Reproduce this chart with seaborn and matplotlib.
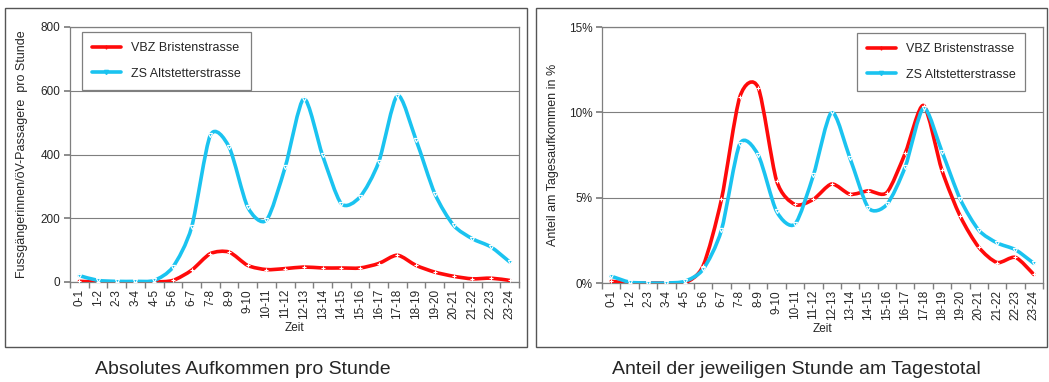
import matplotlib
matplotlib.use("Agg")
import matplotlib.pyplot as plt
from matplotlib.path import Path
from matplotlib.patches import PathPatch, Rectangle
from matplotlib.lines import Line2D
from matplotlib.ticker import FuncFormatter, MultipleLocator
import numpy as np
import seaborn as sns

# --- data ---
hours = ["0-1", "1-2", "2-3", "3-4", "4-5", "5-6", "6-7", "7-8", "8-9", "9-10",
         "10-11", "11-12", "12-13", "13-14", "14-15", "15-16", "16-17", "17-18",
         "18-19", "19-20", "20-21", "21-22", "22-23", "23-24"]

vbz_abs = [2, 0, 0, 0, 0, 5, 37, 89, 94, 52, 39, 42, 47, 44, 44, 44, 58, 84,
           52, 31, 18, 10, 12, 5]
zs_abs = [20, 5, 2, 2, 5, 47, 172, 460, 424, 235, 194, 360, 575, 397, 246, 267,
          376, 585, 445, 277, 178, 136, 110, 63]

vbz_pct = [0.1, 0.0, 0.0, 0.0, 0.0, 1.0, 4.9, 10.9, 11.45, 6.0, 4.6, 4.9, 5.8,
           5.2, 5.4, 5.3, 7.6, 10.4, 6.6, 3.9, 2.1, 1.2, 1.5, 0.5]
zs_pct = [0.4, 0.05, 0.0, 0.0, 0.1, 0.8, 3.1, 8.15, 7.5, 4.2, 3.45, 6.3, 10.0,
          7.3, 4.4, 4.6, 6.8, 10.25, 7.7, 4.9, 3.1, 2.35, 1.95, 1.15]

series_names = ["VBZ Bristenstrasse", "ZS Altstetterstrasse"]
RED = "#FF0A0A"
CYAN = "#1AC3F0"
GRID = "#7F7F7F"

sns.set_theme(style="white")
plt.rcParams["font.family"] = ["Liberation Sans", "DejaVu Sans"]


def smooth_path(x, y, t=0.13):
    """Excel-like smoothed line through the data points (cubic Bezier)"""
    n = len(x)
    verts = [(x[0], y[0])]
    codes = [Path.MOVETO]
    for i in range(n - 1):
        p0 = i - 1 if i > 0 else i
        p3 = i + 2 if i + 2 < n else i + 1
        c1 = (x[i] + (x[i + 1] - x[p0]) * t, y[i] + (y[i + 1] - y[p0]) * t)
        c2 = (x[i + 1] - (x[p3] - x[i]) * t, y[i + 1] - (y[p3] - y[i]) * t)
        verts += [c1, c2, (x[i + 1], y[i + 1])]
        codes += [Path.CURVE4] * 3
    return Path(verts, codes)


def draw_panel(ax, red_vals, cyan_vals, ymax, ystep, ylabel, pct=False, legend_pos=(0.03, 0.98)):
    pos = np.arange(len(hours))
    for vals, color, mk in [(red_vals, RED, "+"), (cyan_vals, CYAN, "v")]:
        ax.add_patch(PathPatch(smooth_path(pos, np.array(vals, float)), fill=False,
                               edgecolor=color, lw=2.6, capstyle="round", joinstyle="round",
                               zorder=3))
        sns.lineplot(x=pos, y=vals, ax=ax, color=color, lw=0, marker=mk,
                     markersize=3, markeredgewidth=0.8, zorder=4)
    ax.set_xlim(-0.5, len(hours) - 0.5)
    ax.set_ylim(0, ymax)
    ax.yaxis.set_major_locator(MultipleLocator(ystep))
    if pct:
        ax.yaxis.set_major_formatter(FuncFormatter(lambda v, _: f"{v:.0f}%"))
    ax.set_xticks(pos)
    ax.set_xticklabels(hours, rotation=90, fontsize=8.5)
    ax.set_xticks(np.arange(-0.5, len(hours)), minor=True)
    ax.tick_params(axis="x", which="major", length=0, pad=5)
    ax.tick_params(axis="x", which="minor", length=4, color=GRID, bottom=True)
    ax.tick_params(axis="y", length=4, color=GRID, left=True, labelsize=8.5, pad=3)
    ax.grid(axis="y", color=GRID, lw=0.8)
    for s in ax.spines.values():
        s.set_color(GRID)
        s.set_linewidth(0.9)
    ax.set_xlabel("Zeit", fontsize=8.5, labelpad=2)
    ax.set_ylabel(ylabel, fontsize=9)
    handles = [Line2D([], [], color=RED, lw=2.6, marker="+", markersize=3),
               Line2D([], [], color=CYAN, lw=2.6, marker="v", markersize=3)]
    leg = ax.legend(handles, series_names, loc="upper left", bbox_to_anchor=legend_pos,
                    borderaxespad=0, fontsize=9, frameon=True, fancybox=False,
                    edgecolor=GRID, framealpha=1, handlelength=2.3, labelspacing=1.1,
                    borderpad=0.8)
    leg.get_frame().set_linewidth(0.9)


fig = plt.figure(figsize=(10.49, 3.82), dpi=100)
W, H = 1049, 382

# panel frames
for x0, x1 in [(5, 527), (536, 1047)]:
    fig.patches.append(Rectangle((x0 / W, 1 - 347 / H), (x1 - x0) / W, (347 - 8) / H,
                                 transform=fig.transFigure, fill=False,
                                 edgecolor="#555555", lw=1.0))

ax1 = fig.add_axes([70 / W, 1 - 282 / H, (519 - 70) / W, (282 - 27) / H])
draw_panel(ax1, vbz_abs, zs_abs, 800, 200,
           "Fussgängerinnen/öV-Passagere  pro Stunde", legend_pos=(0.027, 0.98))
ax1.yaxis.set_label_coords(-0.094, 0.5)

ax2 = fig.add_axes([602 / W, 1 - 283 / H, (1043 - 602) / W, (283 - 27) / H])
draw_panel(ax2, vbz_pct, zs_pct, 15, 5,
           "Anteil am Tagesaufkommen in %", pct=True, legend_pos=(0.578, 0.977))
ax2.yaxis.set_label_coords(-0.0975, 0.5)

fig.text(243 / W, 1 - 370 / H, "Absolutes Aufkommen pro Stunde", ha="center", va="center",
         fontsize=14)
fig.text(796 / W, 1 - 370 / H, "Anteil der jeweiligen Stunde am Tagestotal", ha="center",
         va="center", fontsize=14)

fig.savefig("out.png", dpi=100)
